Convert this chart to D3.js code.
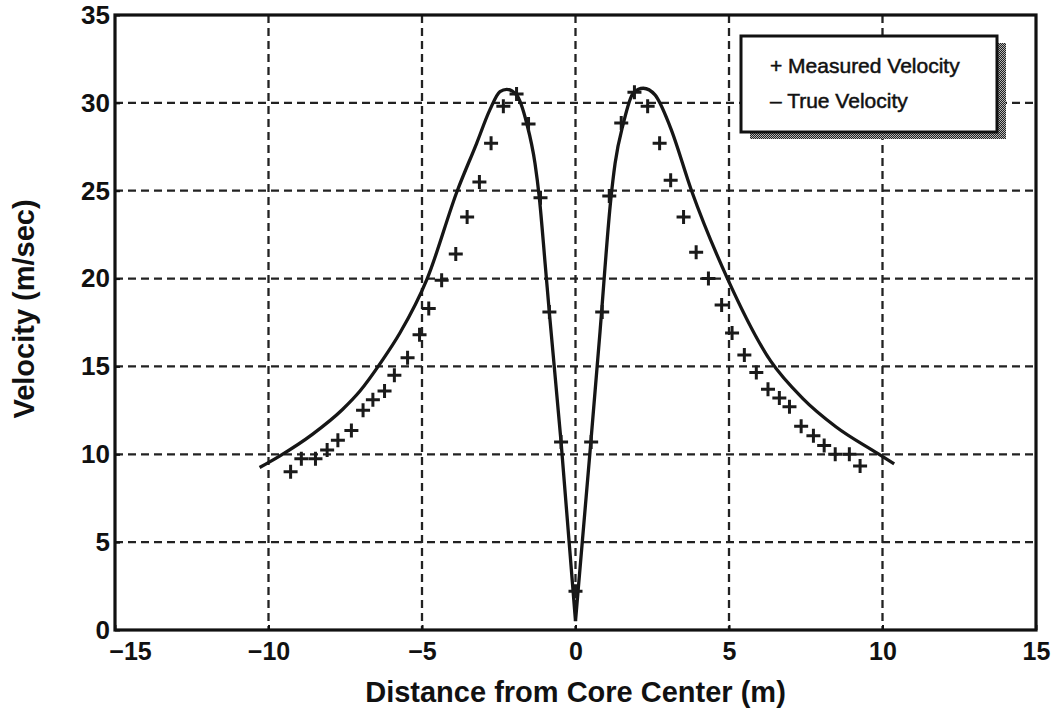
<!DOCTYPE html>
<html>
<head>
    <meta charset="utf-8">
    <script src="https://cdn.jsdelivr.net/npm/d3@7"></script>
    <style>
        body { margin: 0; background: #fff; }
        #chart { width: 1058px; height: 712px; display: block; }
        text { font-family: "Liberation Sans", Arial, Helvetica, sans-serif; fill: #111; }
    </style>
</head>
<body>

<svg id="chart" width="1058" height="712"></svg>

<script>
    // measured velocity (+ markers)
    const measuredX = [-9.28, -8.93, -8.47, -8.09, -7.74, -7.3, -6.92, -6.6, -6.22, -5.9, -5.47, -5.08,
        -4.78, -4.36, -3.9, -3.53, -3.13, -2.75, -2.35, -1.92, -1.53, -1.14, -0.85, -0.47, 0.0,
        0.51, 0.87, 1.1, 1.49, 1.92, 2.35, 2.74, 3.1, 3.52, 3.93, 4.33, 4.76, 5.1, 5.5, 5.89, 6.27,
        6.64, 6.97, 7.35, 7.75, 8.1, 8.46, 8.92, 9.27];
    const measuredY = [9.0, 9.75, 9.75, 10.25, 10.8, 11.35, 12.5, 13.1, 13.6, 14.5, 15.5, 16.8,
        18.3, 19.9, 21.4, 23.5, 25.5, 27.7, 29.8, 30.5, 28.8, 24.6, 18.1, 10.7, 2.2,
        10.7, 18.1, 24.7, 28.85, 30.6, 29.8, 27.7, 25.6, 23.5, 21.5, 20.0, 18.5, 16.9, 15.65, 14.65, 13.7,
        13.2, 12.7, 11.6, 11.05, 10.5, 10.0, 10.0, 9.33];

    // true velocity (solid line)
    const trueX = [-10.29, -9.64, -8.56, -7.59, -7.02, -6.31, -5.72, -4.83, -3.85, -3.22, -2.79, -2.46,
        -2.24, -1.92, -1.59, -1.32, -1.18, -0.99, -0.85, -0.47, 0.0,
        0.5, 0.8, 1.15, 1.29, 1.56, 1.88, 2.21, 2.59, 3.08, 3.78, 4.95, 6.36, 7.39, 8.48, 9.84, 10.38];
    const trueY = [9.25, 9.9, 11.15, 12.55, 13.6, 15.3, 16.9, 20.0, 25.0, 27.7, 29.6, 30.64,
        30.77, 30.45, 28.84, 26.56, 24.63, 20.87, 18.02, 10.7, 0.5,
        10.7, 17.0, 24.5, 26.56, 28.84, 30.55, 30.83, 30.45, 28.65, 25.0, 20.0, 15.3, 13.2, 11.57, 10.05, 9.45];

    const xTicks = [-15, -10, -5, 0, 5, 10, 15];
    const yTicks = [0, 5, 10, 15, 20, 25, 30, 35];
    const legendLabels = ["+ Measured Velocity", "\u2013 True Velocity"];

    const width = 1058, height = 712;
    const margin = { left: 115, right: 22, top: 15, bottom: 82 };

    const svg = d3.select("#chart");
    svg.append("rect").attr("width", width).attr("height", height).attr("fill", "#fff");

    const x = d3.scaleLinear().domain([-15, 15]).range([margin.left, width - margin.right]);
    const y = d3.scaleLinear().domain([0, 35]).range([height - margin.bottom, margin.top]);

    // dashed grid
    const grid = svg.append("g")
        .attr("stroke", "#222")
        .attr("stroke-width", 2.3)
        .attr("stroke-dasharray", "8,5");
    grid.selectAll("line.v")
        .data(xTicks.slice(1, -1))
        .join("line")
        .attr("class", "v")
        .attr("x1", d => x(d)).attr("x2", d => x(d))
        .attr("y1", y(35)).attr("y2", y(0));
    grid.selectAll("line.h")
        .data(yTicks.slice(1, -1))
        .join("line")
        .attr("class", "h")
        .attr("x1", x(-15)).attr("x2", x(15))
        .attr("y1", d => y(d)).attr("y2", d => y(d));

    // axes
    const xAxis = svg.append("g")
        .attr("transform", `translate(0,${y(0)})`)
        .call(d3.axisBottom(x).tickValues(xTicks).tickSizeInner(-5).tickSizeOuter(0).tickPadding(12));
    const yAxis = svg.append("g")
        .attr("transform", `translate(${x(-15)},0)`)
        .call(d3.axisLeft(y).tickValues(yTicks).tickSizeInner(-5).tickSizeOuter(0).tickPadding(5));

    [xAxis, yAxis].forEach(a => {
        a.select(".domain").remove();
        a.selectAll(".tick line").attr("stroke", "#111").attr("stroke-width", 2);
    });
    xAxis.selectAll(".tick text")
        .attr("font-size", 25)
        .attr("font-weight", "bold")
        .attr("fill", "#111")
        .attr("dx", (d, i) => i === 0 ? 15 : 0);
    yAxis.selectAll(".tick text")
        .attr("font-size", 26)
        .attr("font-weight", "bold")
        .attr("fill", "#111");

    // frame
    svg.append("rect")
        .attr("x", x(-15)).attr("y", y(35))
        .attr("width", x(15) - x(-15)).attr("height", y(0) - y(35))
        .attr("fill", "none")
        .attr("stroke", "#111")
        .attr("stroke-width", 3.2);

    // true velocity: two branches meeting at the core
    const line = d3.line()
        .x(d => x(d[0]))
        .y(d => y(d[1]))
        .curve(d3.curveMonotoneX);
    const truePts = trueX.map((v, i) => [v, trueY[i]]);
    const branches = [truePts.filter(p => p[0] <= 0), truePts.filter(p => p[0] >= 0)];
    svg.append("g").selectAll("path")
        .data(branches)
        .join("path")
        .attr("d", line)
        .attr("fill", "none")
        .attr("stroke", "#161616")
        .attr("stroke-width", 3.3)
        .attr("stroke-linejoin", "round");

    // measured velocity markers
    svg.append("g").selectAll("path")
        .data(measuredX.map((v, i) => [v, measuredY[i]]))
        .join("path")
        .attr("transform", d => `translate(${x(d[0])},${y(d[1])})`)
        .attr("d", "M-7,0H7M0,-7V7")
        .attr("stroke", "#1a1a1a")
        .attr("stroke-width", 3);

    // legend with halftone drop shadow
    const defs = svg.append("defs");
    const pat = defs.append("pattern")
        .attr("id", "halftone")
        .attr("width", 2).attr("height", 2)
        .attr("patternUnits", "userSpaceOnUse");
    pat.append("rect").attr("width", 2).attr("height", 2).attr("fill", "#b5b5b5");
    pat.append("rect").attr("width", 1).attr("height", 1).attr("fill", "#222");
    pat.append("rect").attr("x", 1).attr("y", 1).attr("width", 1).attr("height", 1).attr("fill", "#222");

    const lg = svg.append("g").attr("transform", "translate(741,36)");
    lg.append("rect")
        .attr("x", 9).attr("y", 7)
        .attr("width", 256).attr("height", 96)
        .attr("fill", "url(#halftone)");
    lg.append("rect")
        .attr("width", 256).attr("height", 96)
        .attr("fill", "#fff")
        .attr("stroke", "#111")
        .attr("stroke-width", 3);
    lg.selectAll("text")
        .data(legendLabels)
        .join("text")
        .attr("x", 29)
        .attr("y", (d, i) => 37 + i * 35)
        .attr("font-size", 21)
        .attr("stroke", "#111")
        .attr("stroke-width", 0.5)
        .text(d => d);

    // axis titles
    svg.append("text")
        .attr("x", x(0))
        .attr("y", 702)
        .attr("text-anchor", "middle")
        .attr("font-size", 29)
        .attr("font-weight", "bold")
        .text("Distance from Core Center (m)");
    svg.append("text")
        .attr("transform", "translate(34,309) rotate(-90)")
        .attr("text-anchor", "middle")
        .attr("font-size", 29)
        .attr("font-weight", "bold")
        .text("Velocity (m/sec)");
</script>
</body>
</html>
